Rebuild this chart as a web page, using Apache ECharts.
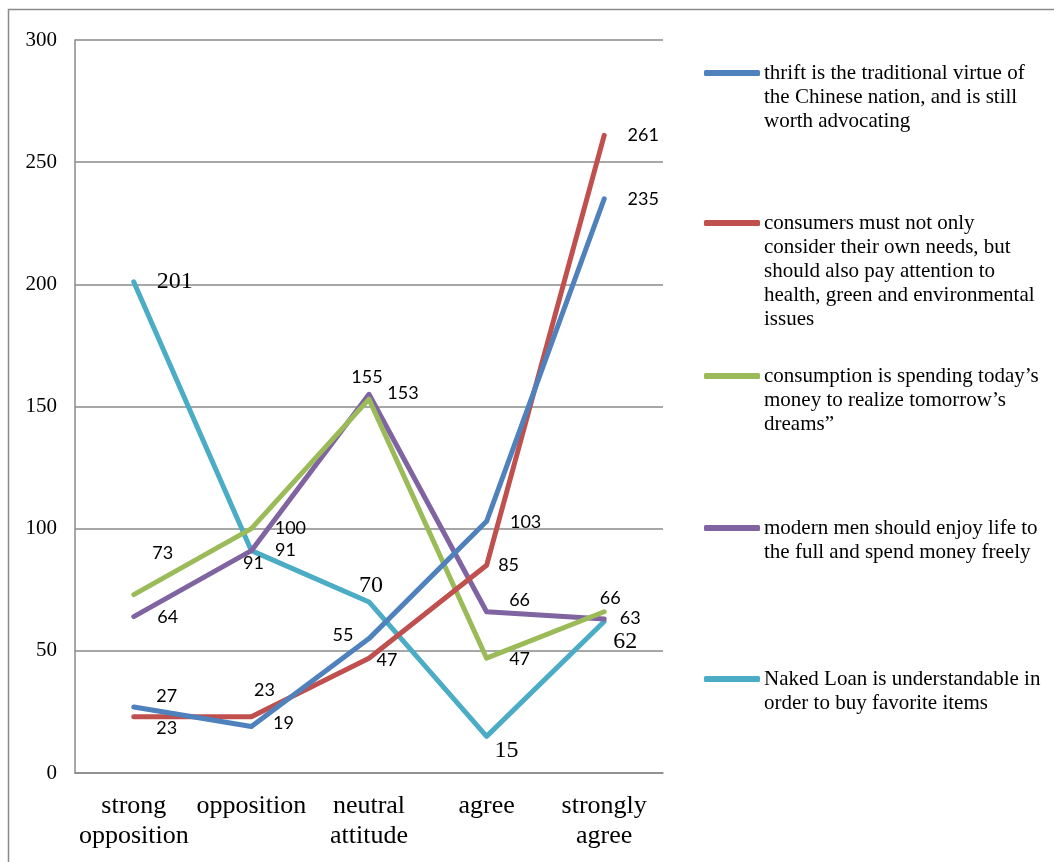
<!DOCTYPE html>
<html>
<head>
<meta charset="utf-8">
<script src="https://cdn.jsdelivr.net/npm/echarts@6/dist/echarts.min.js"></script>
<style>html,body{margin:0;padding:0;background:#fff}#c{width:1054px;height:862px}</style>
</head>
<body>
<div id="c"></div>
<script>
const categories = ['strong\nopposition', 'opposition', 'neutral\nattitude', 'agree', 'strongly\nagree'];
const seriesNames = [
  'thrift is the traditional virtue of the Chinese nation, and is still worth advocating',
  'consumers must not only consider their own needs, but should also pay attention to health, green and environmental issues',
  'consumption is spending today’s money to realize tomorrow’s dreams”',
  'modern men should enjoy life to the full and spend money freely',
  'Naked Loan is understandable in order to buy favorite items'
];
const legendLabels = [
  'thrift is the traditional virtue of\nthe Chinese nation, and is still\nworth advocating',
  'consumers must not only\nconsider their own needs, but\nshould also pay attention to\nhealth, green and environmental\nissues',
  'consumption is spending today’s\nmoney to realize tomorrow’s\ndreams”',
  'modern men should enjoy life to\nthe full and spend money freely',
  'Naked Loan is understandable in\norder to buy favorite items'
];
const thrift      = [27, 19, 55, 103, 235];
const consumers   = [23, 23, 47, 85, 261];
const consumption = [73, 100, 153, 47, 66];
const modernMen   = [64, 91, 155, 66, 63];
const nakedLoan   = [201, 91, 70, 15, 62];
const yTicks = [0, 50, 100, 150, 200, 250, 300];

// styling: label offsets (px) and colours
const colors = ['#4F81BD', '#C0504D', '#9BBB59', '#8064A2', '#4BACC6'];
const labelOffsets = [
  [[33,-11],[32,-3],[-26,-3],[39,1],[39,0]],
  [[33,11],[13,-27],[18,2],[22,0],[39,0]],
  [[29,-41],[39,0],[34,-6],[33,1],[6,-14]],
  [[34,1],[2,13],[-2,-17],[33,-12],[26,-1]],
  [[41,0],[34,0],[2,-16],[20,14],[21,20]]
];
const serifLabel = [
  [false,false,false,false,false],
  [false,false,false,false,false],
  [false,false,false,false,false],
  [false,false,false,false,false],
  [true,false,true,true,true]
];
const values = [thrift, consumers, consumption, modernMen, nakedLoan];
const legendIconY = [72, 222, 375, 527, 678];
const LH = 24;

const sansLabel = {fontFamily: 'Lato', fontSize: 18, color: '#000'};
const serifLbl = {fontFamily: 'Liberation Serif', fontSize: 24, color: '#000'};

const series = values.map((vals, si) => ({
  name: seriesNames[si],
  type: 'line',
  symbol: 'circle',
  symbolSize: 1,
  showSymbol: true,
  z: 10 - si,
  lineStyle: {color: colors[si], width: 5, cap: 'round', join: 'round'},
  itemStyle: {color: colors[si]},
  emphasis: {disabled: true},
  data: vals.map((v, i) => ({
    value: v,
    label: Object.assign({
      show: true,
      position: 'inside',
      align: 'center',
      verticalAlign: 'middle',
      offset: labelOffsets[si][i]
    }, serifLabel[si][i] ? serifLbl : sansLabel)
  }))
}));

const legends = seriesNames.map((nm, si) => {
  const n = legendLabels[si].split('\n').length;
  const pad = new Array(n - 1).fill(' ').join('\n');
  const txt = (n > 1 ? pad + '\n' : '') + legendLabels[si];
  return {
    data: [nm],
    left: 704,
    top: legendIconY[si] - (2 * n - 1) * LH / 2 + 1,
    padding: 0,
    orient: 'vertical',
    itemWidth: 56,
    itemHeight: 6,
    itemGap: 0,
    icon: 'roundRect',
    selectedMode: false,
    formatter: () => txt,
    textStyle: {
      fontFamily: 'Liberation Serif',
      fontSize: 21,
      lineHeight: LH,
      color: '#000',
      padding: [0, 0, 0, -1]
    }
  };
});

const chart = echarts.init(document.getElementById('c'), null, {renderer: 'canvas'});
chart.setOption({
  animation: false,
  backgroundColor: '#fff',
  graphic: [{
    type: 'rect',
    shape: {x: 8.5, y: 9.5, width: 1200, height: 1000},
    style: {fill: 'none', stroke: '#8a8a8a', lineWidth: 1.5},
    silent: true
  }],
  grid: {left: 75, right: 391, top: 40, bottom: 89, containLabel: false},
  legend: legends,
  xAxis: {
    type: 'category',
    data: categories,
    boundaryGap: true,
    axisLine: {show: true, lineStyle: {color: '#8a8a8a', width: 1.5}},
    axisTick: {show: false},
    axisLabel: {
      interval: 0,
      margin: 18,
      fontFamily: 'Liberation Serif',
      fontSize: 26,
      lineHeight: 30,
      color: '#000'
    }
  },
  yAxis: {
    type: 'value',
    min: 0,
    max: 300,
    interval: 50,
    axisLine: {show: true, lineStyle: {color: '#8a8a8a', width: 1.5}},
    axisTick: {show: false},
    splitLine: {show: true, lineStyle: {color: '#8a8a8a', width: 1.5}},
    axisLabel: {
      margin: 18,
      fontFamily: 'Liberation Serif',
      fontSize: 21,
      color: '#000',
      formatter: v => yTicks.includes(v) ? String(v) : ''
    }
  },
  series: series
});
</script>
</body>
</html>
